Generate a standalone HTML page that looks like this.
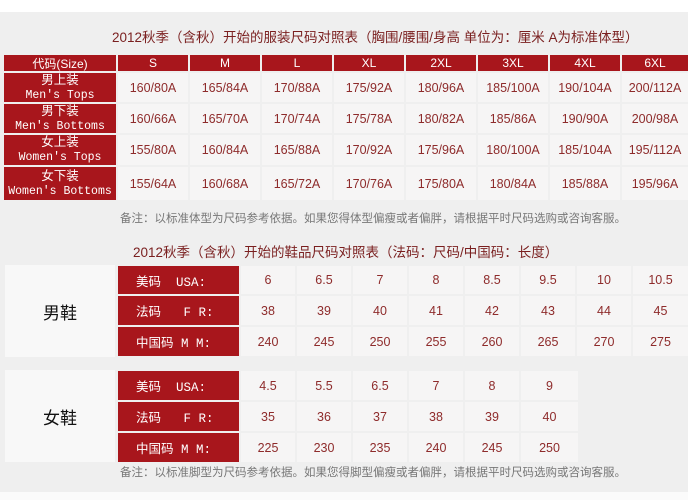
<!DOCTYPE html>
<html><head><meta charset="utf-8"><style>
body{margin:0;width:688px;height:500px;background:#efefef;position:relative;overflow:hidden;font-family:"Liberation Sans","Noto Sans CJK SC",sans-serif}
.top{position:absolute;left:0;top:0;width:688px;height:12px;background:#fff}
.bot{position:absolute;left:0;top:492px;width:688px;height:8px;background:#fbfbfb}
.c{position:absolute;display:flex;align-items:center;justify-content:center;text-align:center;box-sizing:border-box}
.r{background:#a8161c;color:#fff}
.v{background:#f6f5f5;color:#8e2b2b;font-size:12.5px}
.h{font-size:12px}
.t{position:absolute;color:#7a1f1f;font-size:13.5px;white-space:nowrap}
.n{position:absolute;color:#777;font-size:11.5px;white-space:nowrap}
.lab{line-height:14px;font-size:12.5px}
.m{font-family:"Liberation Mono","Noto Sans CJK SC",monospace;font-size:11.5px;white-space:nowrap}
.s{justify-content:flex-start;padding-left:18px;font-size:12.5px;white-space:pre;font-family:"Liberation Mono","Noto Sans CJK SC",monospace}
</style></head><body>
<div class="top"></div>
<div class="bot"></div>
<div class="t" style="left:112px;top:26px">2012秋季（含秋）开始的服装尺码对照表（胸围/腰围/身高  单位为：厘米 A为标准体型）</div>

<div class="c r h" style="left:4px;top:55px;width:112px;height:16px">代码(Size)</div>
<div class="c r h" style="left:118px;top:55px;width:70px;height:16px">S</div>
<div class="c r h" style="left:190px;top:55px;width:70px;height:16px">M</div>
<div class="c r h" style="left:262px;top:55px;width:70px;height:16px">L</div>
<div class="c r h" style="left:334px;top:55px;width:70px;height:16px">XL</div>
<div class="c r h" style="left:406px;top:55px;width:70px;height:16px">2XL</div>
<div class="c r h" style="left:478px;top:55px;width:70px;height:16px">3XL</div>
<div class="c r h" style="left:550px;top:55px;width:70px;height:16px">4XL</div>
<div class="c r h" style="left:622px;top:55px;width:66px;height:16px">6XL</div>

<div class="c r lab" style="left:4px;top:73px;width:112px;height:29px"><div>男上装<br><span class="m">Men's Tops</span></div></div>
<div class="c r lab" style="left:4px;top:104px;width:112px;height:29px"><div>男下装<br><span class="m">Men's Bottoms</span></div></div>
<div class="c r lab" style="left:4px;top:135px;width:112px;height:30px"><div>女上装<br><span class="m">Women's Tops</span></div></div>
<div class="c r lab" style="left:4px;top:167px;width:112px;height:33px"><div>女下装<br><span class="m">Women's Bottoms</span></div></div>

<div class="c v" style="left:118px;top:73px;width:70px;height:29px">160/80A</div>
<div class="c v" style="left:190px;top:73px;width:70px;height:29px">165/84A</div>
<div class="c v" style="left:262px;top:73px;width:70px;height:29px">170/88A</div>
<div class="c v" style="left:334px;top:73px;width:70px;height:29px">175/92A</div>
<div class="c v" style="left:406px;top:73px;width:70px;height:29px">180/96A</div>
<div class="c v" style="left:478px;top:73px;width:70px;height:29px">185/100A</div>
<div class="c v" style="left:550px;top:73px;width:70px;height:29px">190/104A</div>
<div class="c v" style="left:622px;top:73px;width:66px;height:29px">200/112A</div>

<div class="c v" style="left:118px;top:104px;width:70px;height:29px">160/66A</div>
<div class="c v" style="left:190px;top:104px;width:70px;height:29px">165/70A</div>
<div class="c v" style="left:262px;top:104px;width:70px;height:29px">170/74A</div>
<div class="c v" style="left:334px;top:104px;width:70px;height:29px">175/78A</div>
<div class="c v" style="left:406px;top:104px;width:70px;height:29px">180/82A</div>
<div class="c v" style="left:478px;top:104px;width:70px;height:29px">185/86A</div>
<div class="c v" style="left:550px;top:104px;width:70px;height:29px">190/90A</div>
<div class="c v" style="left:622px;top:104px;width:66px;height:29px">200/98A</div>

<div class="c v" style="left:118px;top:135px;width:70px;height:30px">155/80A</div>
<div class="c v" style="left:190px;top:135px;width:70px;height:30px">160/84A</div>
<div class="c v" style="left:262px;top:135px;width:70px;height:30px">165/88A</div>
<div class="c v" style="left:334px;top:135px;width:70px;height:30px">170/92A</div>
<div class="c v" style="left:406px;top:135px;width:70px;height:30px">175/96A</div>
<div class="c v" style="left:478px;top:135px;width:70px;height:30px">180/100A</div>
<div class="c v" style="left:550px;top:135px;width:70px;height:30px">185/104A</div>
<div class="c v" style="left:622px;top:135px;width:66px;height:30px">195/112A</div>

<div class="c v" style="left:118px;top:167px;width:70px;height:33px">155/64A</div>
<div class="c v" style="left:190px;top:167px;width:70px;height:33px">160/68A</div>
<div class="c v" style="left:262px;top:167px;width:70px;height:33px">165/72A</div>
<div class="c v" style="left:334px;top:167px;width:70px;height:33px">170/76A</div>
<div class="c v" style="left:406px;top:167px;width:70px;height:33px">175/80A</div>
<div class="c v" style="left:478px;top:167px;width:70px;height:33px">180/84A</div>
<div class="c v" style="left:550px;top:167px;width:70px;height:33px">185/88A</div>
<div class="c v" style="left:622px;top:167px;width:66px;height:33px">195/96A</div>

<div class="n" style="left:120px;top:210px">备注：以标准体型为尺码参考依据。如果您得体型偏瘦或者偏胖，请根据平时尺码选购或咨询客服。</div>
<div class="t" style="left:133px;top:241px">2012秋季（含秋）开始的鞋品尺码对照表（法码：尺码/中国码：长度）</div>

<!-- men shoes -->
<div class="c" style="left:5px;top:265px;width:110px;height:92px;background:#f8f8f8;font-size:17px;color:#111">男鞋</div>
<div class="c r s" style="left:118px;top:266px;width:121px;height:28px">美码  USA:</div>
<div class="c r s" style="left:118px;top:296px;width:121px;height:29px">法码   F R:</div>
<div class="c r s" style="left:118px;top:327px;width:121px;height:29px">中国码 M M:</div>

<div class="c v" style="left:241px;top:266px;width:54px;height:28px">6</div>
<div class="c v" style="left:297px;top:266px;width:54px;height:28px">6.5</div>
<div class="c v" style="left:353px;top:266px;width:54px;height:28px">7</div>
<div class="c v" style="left:409px;top:266px;width:54px;height:28px">8</div>
<div class="c v" style="left:465px;top:266px;width:54px;height:28px">8.5</div>
<div class="c v" style="left:521px;top:266px;width:54px;height:28px">9.5</div>
<div class="c v" style="left:577px;top:266px;width:54px;height:28px">10</div>
<div class="c v" style="left:633px;top:266px;width:55px;height:28px">10.5</div>

<div class="c v" style="left:241px;top:296px;width:54px;height:29px">38</div>
<div class="c v" style="left:297px;top:296px;width:54px;height:29px">39</div>
<div class="c v" style="left:353px;top:296px;width:54px;height:29px">40</div>
<div class="c v" style="left:409px;top:296px;width:54px;height:29px">41</div>
<div class="c v" style="left:465px;top:296px;width:54px;height:29px">42</div>
<div class="c v" style="left:521px;top:296px;width:54px;height:29px">43</div>
<div class="c v" style="left:577px;top:296px;width:54px;height:29px">44</div>
<div class="c v" style="left:633px;top:296px;width:55px;height:29px">45</div>

<div class="c v" style="left:241px;top:327px;width:54px;height:29px">240</div>
<div class="c v" style="left:297px;top:327px;width:54px;height:29px">245</div>
<div class="c v" style="left:353px;top:327px;width:54px;height:29px">250</div>
<div class="c v" style="left:409px;top:327px;width:54px;height:29px">255</div>
<div class="c v" style="left:465px;top:327px;width:54px;height:29px">260</div>
<div class="c v" style="left:521px;top:327px;width:54px;height:29px">265</div>
<div class="c v" style="left:577px;top:327px;width:54px;height:29px">270</div>
<div class="c v" style="left:633px;top:327px;width:55px;height:29px">275</div>

<!-- women shoes -->
<div class="c" style="left:5px;top:370px;width:110px;height:92px;background:#f8f8f8;font-size:17px;color:#111">女鞋</div>
<div class="c r s" style="left:118px;top:371px;width:121px;height:29px">美码  USA:</div>
<div class="c r s" style="left:118px;top:402px;width:121px;height:29px">法码   F R:</div>
<div class="c r s" style="left:118px;top:433px;width:121px;height:29px">中国码 M M:</div>

<div class="c v" style="left:241px;top:371px;width:54px;height:29px">4.5</div>
<div class="c v" style="left:297px;top:371px;width:54px;height:29px">5.5</div>
<div class="c v" style="left:353px;top:371px;width:54px;height:29px">6.5</div>
<div class="c v" style="left:409px;top:371px;width:54px;height:29px">7</div>
<div class="c v" style="left:465px;top:371px;width:54px;height:29px">8</div>
<div class="c v" style="left:521px;top:371px;width:57px;height:29px">9</div>

<div class="c v" style="left:241px;top:402px;width:54px;height:29px">35</div>
<div class="c v" style="left:297px;top:402px;width:54px;height:29px">36</div>
<div class="c v" style="left:353px;top:402px;width:54px;height:29px">37</div>
<div class="c v" style="left:409px;top:402px;width:54px;height:29px">38</div>
<div class="c v" style="left:465px;top:402px;width:54px;height:29px">39</div>
<div class="c v" style="left:521px;top:402px;width:57px;height:29px">40</div>

<div class="c v" style="left:241px;top:433px;width:54px;height:29px">225</div>
<div class="c v" style="left:297px;top:433px;width:54px;height:29px">230</div>
<div class="c v" style="left:353px;top:433px;width:54px;height:29px">235</div>
<div class="c v" style="left:409px;top:433px;width:54px;height:29px">240</div>
<div class="c v" style="left:465px;top:433px;width:54px;height:29px">245</div>
<div class="c v" style="left:521px;top:433px;width:57px;height:29px">250</div>

<div class="n" style="left:120px;top:464px">备注：以标准脚型为尺码参考依据。如果您得脚型偏瘦或者偏胖，请根据平时尺码选购或咨询客服。</div>
</body></html>
